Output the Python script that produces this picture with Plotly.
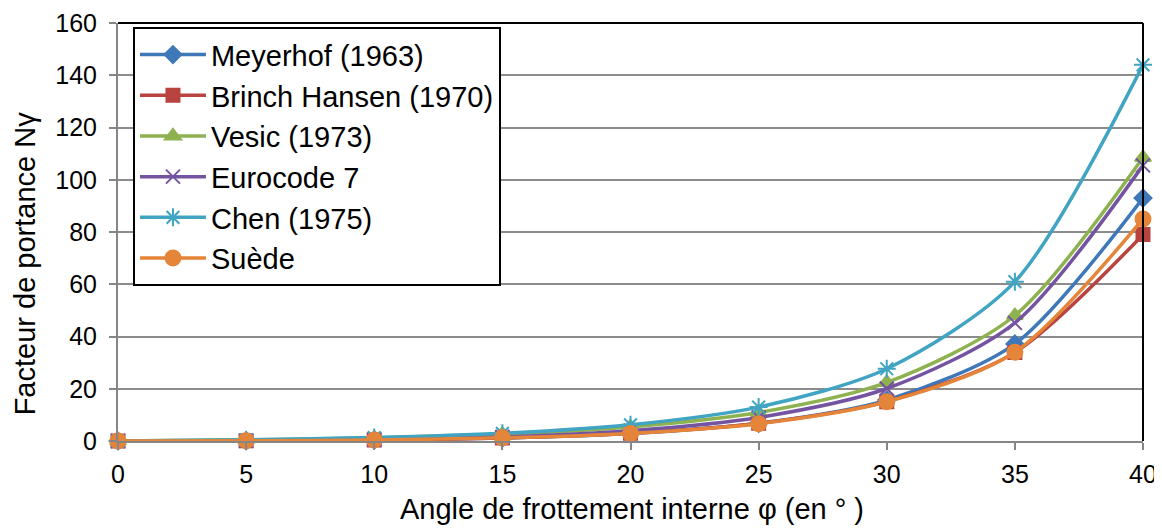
import plotly.graph_objects as go

phi = [0, 5, 10, 15, 20, 25, 30, 35, 40]
meyerhof = [0, 0.07, 0.37, 1.13, 2.87, 6.77, 15.67, 37.15, 93.0]
hansen = [0, 0.07, 0.39, 1.18, 2.95, 6.76, 15.07, 33.92, 79.0]
vesic = [0, 0.45, 1.22, 2.65, 5.39, 10.88, 22.40, 48.03, 108.5]
eurocode = [0, 0.10, 0.52, 1.58, 3.93, 9.01, 20.09, 45.23, 105.5]
chen = [0, 0.47, 1.31, 2.94, 6.20, 12.97, 27.66, 61.0, 144.0]
suede = [0, 0.1, 0.4, 1.2, 2.9, 6.6, 15.0, 34.0, 85.0]

names = ["Meyerhof (1963)", "Brinch Hansen (1970)", "Vesic (1973)",
         "Eurocode 7", "Chen (1975)", "Suède"]
series = [meyerhof, hansen, vesic, eurocode, chen, suede]
colors = ["#3F78B8", "#B8433F", "#8DB24F", "#7454A0", "#40A4C2", "#E4853A"]
symbols = ["diamond", "square", "triangle-up", "x-thin-open", "asterisk-open", "circle"]
sizes = [13, 13, 14, 14, 15, 15]

fig = go.Figure()
for n, s, c, sym, sz in zip(names, series, colors, symbols, sizes):
    fig.add_trace(go.Scatter(
        x=phi, y=s, name=n, mode="lines+markers",
        line=dict(color=c, width=3.5, shape="spline", smoothing=0.8),
        marker=dict(symbol=sym, size=sz, color=c, line=dict(color=c, width=2)),
        cliponaxis=False,
    ))

font = "Liberation Sans, Arial, sans-serif"
fig.update_layout(
    width=1154, height=521,
    margin=dict(l=110, r=19, t=15, b=88, autoexpand=False),
    paper_bgcolor="white", plot_bgcolor="white",
    font=dict(family=font, size=24, color="black"),
    showlegend=True,
    legend=dict(x=0.0146, y=0.99, xanchor="left", yanchor="top",
                bgcolor="white", bordercolor="black", borderwidth=2,
                font=dict(size=29, family=font), tracegroupgap=0,
                itemwidth=66),
    xaxis=dict(range=[0, 40], tickmode="array", tickvals=phi,
               showgrid=False, zeroline=False, automargin=False,
               showline=True, linecolor="#868686", linewidth=2,
               ticks="outside", ticklen=7, tickcolor="#868686", tickwidth=2,
               tickfont=dict(size=25), ticklabelstandoff=3,
               ticklabeloverflow="allow"),
    yaxis=dict(range=[0, 160], dtick=20, showgrid=True, automargin=False,
               gridcolor="#8C8C8C", gridwidth=1.8, zeroline=False,
               showline=True, linecolor="#868686", linewidth=2,
               ticks="outside", ticklen=7, tickcolor="#868686", tickwidth=2,
               tickfont=dict(size=25), ticklabelstandoff=7,
               ticklabeloverflow="allow"),
    annotations=[
        dict(text="Angle de frottement interne φ (en ° )", xref="paper", yref="paper",
             x=0.5015, y=0, yshift=-68, xanchor="center", yanchor="middle",
             showarrow=False, font=dict(size=29, family=font, color="black")),
        dict(text="Facteur de portance Nγ", xref="paper", yref="paper",
             x=0, xshift=-93, y=0.425, xanchor="center", yanchor="middle",
             textangle=-90, showarrow=False,
             font=dict(size=29, family=font, color="black")),
    ],
)
fig.add_shape(type="line", xref="paper", yref="paper", x0=0, x1=1, y0=1, y1=1,
              line=dict(color="black", width=2))
fig.add_shape(type="line", xref="paper", yref="paper", x0=1, x1=1, y0=0, y1=1,
              line=dict(color="black", width=2))

fig.write_html("out.html")
